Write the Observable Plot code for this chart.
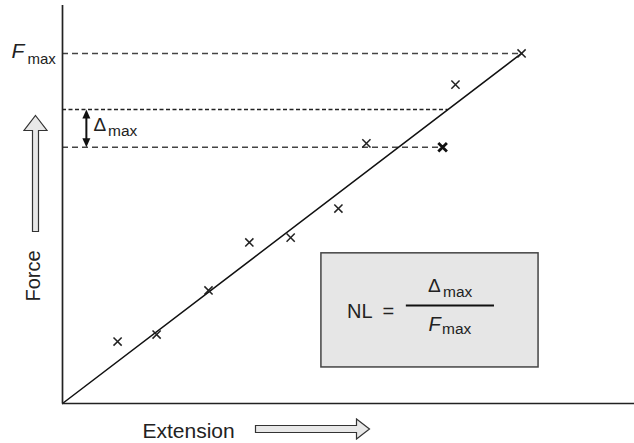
<!DOCTYPE html>
<html>
<head>
<meta charset="utf-8">
<script src="https://cdn.jsdelivr.net/npm/d3@7"></script>
<script src="https://cdn.jsdelivr.net/npm/@observablehq/plot@0.6"></script>
<style>
  html, body { margin: 0; padding: 0; background: #fff; }
  #chart svg { display: block; }
</style>
</head>
<body>
<div id="chart"></div>
<script>
// ---- data (extension / force in relative units, Fmax = 100) ----
const extension = [12.0, 20.5, 31.8, 40.7, 49.7, 60.1, 66.2, 82.8, 85.6, 100];
const force     = [17.7, 19.7, 32.3, 46.0, 47.4, 55.7, 74.3, 73.2, 91.1, 100];
const emphasis  = [0, 0, 0, 0, 0, 0, 0, 1, 0, 0];
const fitExtension = [0, 100];
const fitForce     = [0, 100];
const Fmax = 100;
const deltaTop = 84.0;      // where the fit line is furthest from a point
const deltaBottom = 73.2;   // level of the farthest point
const deltaTopEnd = 84.0;
const deltaBottomEnd = 82.8;
const deltaArrowExt = 5.2;
const boxExt = [56.4, 103.7];
const boxForce = [10.3, 42.9];
const barExt = [74.9, 94.1];
const barForce = 28.0;
const axisLabels = ["Extension", "Force"];

const points = extension.map((e, i) => ({e, f: force[i], bold: emphasis[i]}));
const fit = fitExtension.map((e, i) => ({e, f: fitForce[i]}));
const boxCenter = [{e: (boxExt[0] + boxExt[1]) / 2, f: (boxForce[0] + boxForce[1]) / 2}];

const font = "'Liberation Sans', Arial, Helvetica, sans-serif";
const ink = "#222";

// custom symbols
const sym = (pts) => ({draw(ctx) { ctx.moveTo(pts[0][0], pts[0][1]); for (const p of pts.slice(1)) ctx.lineTo(p[0], p[1]); ctx.closePath(); }});
const upHead = sym([[0,0],[4,9],[-4,9]]);
const downHead = sym([[0,0],[4,-9],[-4,-9]]);
const bigUp = sym([[0,0],[11.5,15],[3,15],[3,116],[-3,116],[-3,15],[-11.5,15]]);
const bigRight = sym([[0,0],[-13,-10],[-13,-3.5],[-114,-3.5],[-114,3.5],[-13,3.5],[-13,10]]);

const chart = Plot.plot({
  width: 634,
  height: 443,
  marginLeft: 62,
  marginRight: 0,
  marginTop: 5,
  marginBottom: 40,
  style: {fontFamily: font, background: "#fff", color: ink},
  x: {domain: [0, 124.6], axis: null},
  y: {domain: [0, 113.7], axis: null},
  marks: [
    // NL box
    Plot.rect([0], {x1: boxExt[0], x2: boxExt[1], y1: boxForce[0], y2: boxForce[1], fill: "#e6e6e6", stroke: "#444", strokeWidth: 1.5}),
    // guide lines
    Plot.ruleY([Fmax], {x1: 0, x2: 100, stroke: "#444", strokeWidth: 1.4, strokeDasharray: "6,4"}),
    Plot.ruleY([deltaTop], {x1: 0, x2: deltaTopEnd, stroke: "#222", strokeWidth: 1.5, strokeDasharray: "4,2.5"}),
    Plot.ruleY([deltaBottom], {x1: 0, x2: deltaBottomEnd, stroke: "#444", strokeWidth: 1.4, strokeDasharray: "6,4"}),
    // fit line
    Plot.line(fit, {x: "e", y: "f", stroke: "#111", strokeWidth: 1.5}),
    // data points
    Plot.dot(points.filter(d => !d.bold), {x: "e", y: "f", symbol: "times", r: 3.8, stroke: ink, strokeWidth: 1.5}),
    Plot.dot(points.filter(d => d.bold), {x: "e", y: "f", symbol: "times", r: 4, stroke: "#111", strokeWidth: 2.8}),
    // delta arrow
    Plot.ruleX([deltaArrowExt], {y1: deltaBottom + 1.5, y2: deltaTop - 1.5, stroke: "#111", strokeWidth: 2}),
    Plot.dot([0], {x: deltaArrowExt, y: deltaTop, symbol: upHead, fill: "#111", stroke: "none"}),
    Plot.dot([0], {x: deltaArrowExt, y: deltaBottom, symbol: downHead, fill: "#111", stroke: "none"}),
    // axes
    Plot.ruleX([0], {stroke: ink, strokeWidth: 1.7}),
    Plot.ruleY([0], {stroke: ink, strokeWidth: 1.7}),
    // Fmax label
    Plot.text([0], {x: 0, y: Fmax, text: () => "F", fontStyle: "italic", fontSize: 21, textAnchor: "start", lineAnchor: "bottom", dx: -51, dy: 4.5, fill: ink}),
    Plot.text([0], {x: 0, y: Fmax, text: () => "max", fontSize: 15, textAnchor: "start", lineAnchor: "bottom", dx: -35, dy: 11, fill: ink}),
    // Delta max label
    Plot.text([0], {x: 0, y: (deltaTop + deltaBottom) / 2, text: () => "\u0394", fontSize: 19, textAnchor: "start", lineAnchor: "bottom", dx: 31, dy: 2.5, fill: ink}),
    Plot.text([0], {x: 0, y: (deltaTop + deltaBottom) / 2, text: () => "max", fontSize: 15.5, textAnchor: "start", lineAnchor: "bottom", dx: 45.5, dy: 7.5, fill: ink}),
    // formula
    Plot.text(boxCenter, {x: "e", y: "f", text: () => "NL\u2002=", fontSize: 20, textAnchor: "start", lineAnchor: "bottom", dx: -83, dy: 7.5, fill: ink}),
    Plot.ruleY([barForce], {x1: barExt[0], x2: barExt[1], stroke: "#111", strokeWidth: 2}),
    Plot.text(boxCenter, {x: "e", y: "f", text: () => "\u0394", fontSize: 19, textAnchor: "start", lineAnchor: "bottom", dx: -2, dy: -18.5, fill: ink}),
    Plot.text(boxCenter, {x: "e", y: "f", text: () => "max", fontSize: 15.5, textAnchor: "start", lineAnchor: "bottom", dx: 13, dy: -13, fill: ink}),
    Plot.text(boxCenter, {x: "e", y: "f", text: () => "F", fontStyle: "italic", fontSize: 20, textAnchor: "start", lineAnchor: "bottom", dx: -1.5, dy: 20.5, fill: ink}),
    Plot.text(boxCenter, {x: "e", y: "f", text: () => "max", fontSize: 15.5, textAnchor: "start", lineAnchor: "bottom", dx: 12, dy: 24, fill: ink}),
    // axis labels and hollow arrows
    Plot.text([axisLabels[0]], {frameAnchor: "bottom-left", text: d => d, fontSize: 21, textAnchor: "start", lineAnchor: "bottom", dx: 80, dy: 34.5, fill: ink}),
    Plot.text([axisLabels[1]], {frameAnchor: "top-left", text: d => d, fontSize: 20, rotate: -90, textAnchor: "middle", lineAnchor: "bottom", dx: -23, dy: 270.5, fill: ink}),
    Plot.dot([0], {frameAnchor: "top-left", symbol: bigUp, fill: "#e8e8e8", stroke: "#333", strokeWidth: 1.2, dx: -27, dy: 110}),
    Plot.dot([0], {frameAnchor: "bottom-left", symbol: bigRight, fill: "#e8e8e8", stroke: "#333", strokeWidth: 1.2, dx: 307, dy: 25.5})
  ]
});
document.getElementById("chart").appendChild(chart);
</script>
</body>
</html>
